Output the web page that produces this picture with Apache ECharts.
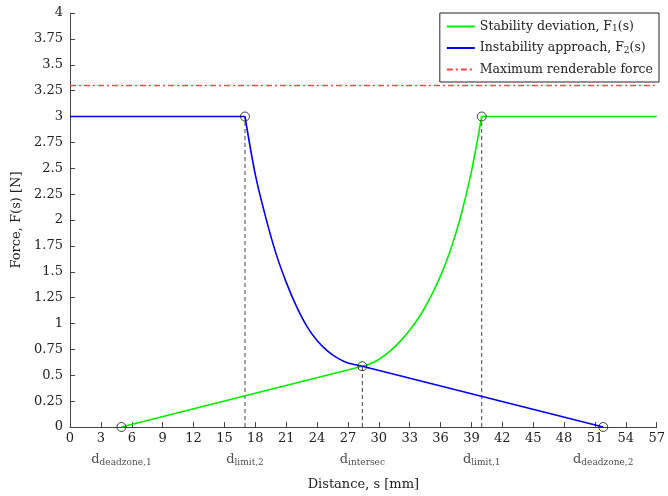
<!DOCTYPE html>
<html><head><meta charset="utf-8">
<script src="https://cdn.jsdelivr.net/npm/echarts@6/dist/echarts.min.js"></script>
<style>html,body{margin:0;padding:0;background:#fff}#c{width:668px;height:496px}</style>
</head><body><div id="c"></div>
<script>
// ---- data ----
const greenLinX = [5, 28.4];
const greenLinY = [0, 0.587];
const greenCurveX = [28.4, 29, 30, 31, 32, 33, 34, 35, 36, 37, 38, 39, 40];
const greenCurveY = [0.587, 0.603, 0.652, 0.725, 0.82, 0.935, 1.075, 1.25, 1.46, 1.72, 2.05, 2.47, 3];
const greenFlatX = [40, 57];
const greenFlatY = [3, 3];
const blueFlatX = [0, 17];
const blueFlatY = [3, 3];
const blueCurveX = [17, 18, 19, 20, 21, 22, 23, 24, 25, 26, 27, 28, 28.4];
const blueCurveY = [3, 2.44, 2.03, 1.68, 1.40, 1.165, 0.975, 0.835, 0.735, 0.665, 0.618, 0.595, 0.587];
const blueLinX = [28.4, 51.8];
const blueLinY = [0.587, 0];
const maxForce = 3.3;
const markX = [5, 17, 28.4, 40, 51.8];
const markY = [0, 3, 0.587, 3, 0];
const markSub = ['deadzone,1', 'limit,2', 'intersec', 'limit,1', 'deadzone,2'];
const dashedIdx = [1, 2, 3];
const legendNames = ['Stability deviation, F1(s)', 'Instability approach, F2(s)', 'Maximum renderable force'];

const FONT = 'DejaVu Serif';
const GREEN = '#00ee00', BLUE = '#0000ee', RED = '#ff4444';
const zip = (a, b) => a.map((v, i) => [v, b[i]]);
const lineS = (name, xs, ys, color, smooth) => ({
  name, type: 'line', data: zip(xs, ys), symbol: 'none', showSymbol: false,
  smooth: smooth ? 0.3 : false,
  lineStyle: { color, width: 1.6 }, itemStyle: { color }, z: 3
});

const series = [
  lineS(legendNames[0], greenLinX, greenLinY, GREEN, false),
  lineS(legendNames[0], greenCurveX, greenCurveY, GREEN, true),
  lineS(legendNames[0], greenFlatX, greenFlatY, GREEN, false),
  lineS(legendNames[1], blueFlatX, blueFlatY, BLUE, false),
  lineS(legendNames[1], blueCurveX, blueCurveY, BLUE, true),
  lineS(legendNames[1], blueLinX, blueLinY, BLUE, false),
  { name: legendNames[2], type: 'line', data: [[0, maxForce], [57, maxForce]], symbol: 'none', showSymbol: false,
    lineStyle: { color: RED, width: 1.4, type: [6, 3, 2, 3] }, itemStyle: { color: RED }, z: 2 }
];
dashedIdx.forEach(i => {
  series.push({ type: 'line', data: [[markX[i], 0], [markX[i], markY[i]]], symbol: 'none', silent: true,
    lineStyle: { color: '#444', width: 1, type: [4, 3] }, z: 1 });
});
series.push({ type: 'scatter', data: zip(markX, markY), symbol: 'circle', symbolSize: 9, clip: false,
  itemStyle: { color: 'rgba(0,0,0,0)', borderColor: '#111', borderWidth: 1 }, z: 5 });
series.push({ type: 'scatter', data: markX.map((x, i) => ({ value: [x, 0], name: markSub[i] })), symbolSize: 0, clip: false,
  label: { show: true, position: 'bottom', distance: 25,
    formatter: p => '{d|d}{s|' + p.name + '}',
    rich: { d: { fontFamily: FONT, fontSize: 13, color: '#222' },
            s: { fontFamily: FONT, fontSize: 9, color: '#222', padding: [6, 0, 0, 0] } } }, z: 5 });

const chart = echarts.init(document.getElementById('c'), null, { renderer: 'canvas' });
chart.setOption({
  animation: false,
  backgroundColor: '#fff',
  grid: { left: 70, right: 7, top: 13, bottom: 67 },
  legend: {
    data: legendNames, right: 9, top: 13, orient: 'vertical', itemWidth: 28, itemHeight: 10, itemGap: 8,
    itemStyle: { opacity: 0 },
    borderColor: '#222', borderWidth: 1, padding: [7, 6, 6, 6], backgroundColor: '#fff',
    formatter: n => {
      if (n.indexOf('F1') >= 0) return '{n|Stability deviation, F}{s|1}{n|(s)}';
      if (n.indexOf('F2') >= 0) return '{n|Instability approach, F}{s|2}{n|(s)}';
      return '{n|' + n + '}';
    },
    textStyle: { fontFamily: FONT, fontSize: 12.5, color: '#222',
      rich: { n: { fontFamily: FONT, fontSize: 12.5, color: '#222' },
              s: { fontFamily: FONT, fontSize: 9, color: '#222', padding: [5, 0, 0, 0] } } }
  },
  xAxis: {
    type: 'value', min: 0, max: 57, interval: 3,
    name: 'Distance, s [mm]', nameLocation: 'middle', nameGap: 51,
    nameTextStyle: { fontFamily: FONT, fontSize: 13, color: '#222' },
    axisLine: { lineStyle: { color: '#444', width: 1 } },
    axisTick: { inside: true, length: 5, lineStyle: { color: '#444' } },
    axisLabel: { fontFamily: FONT, fontSize: 13, color: '#222', margin: 5 },
    splitLine: { show: false }
  },
  yAxis: {
    type: 'value', min: 0, max: 4, interval: 0.25,
    name: 'Force, F(s) [N]', nameLocation: 'middle', nameGap: 46,
    nameTextStyle: { fontFamily: FONT, fontSize: 13, color: '#222' },
    axisLine: { show: true, lineStyle: { color: '#444', width: 1 } },
    axisTick: { show: true, inside: true, length: 5, lineStyle: { color: '#444' } },
    axisLabel: { fontFamily: FONT, fontSize: 13, color: '#222', margin: 7 },
    splitLine: { show: false }
  },
  series
});
</script></body></html>
